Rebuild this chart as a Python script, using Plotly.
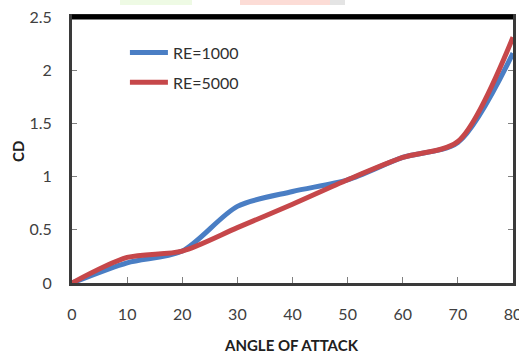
import plotly.graph_objects as go

angle = [0, 10, 20, 30, 40, 50, 60, 70, 80]
cd_re1000 = [0, 0.19, 0.30, 0.72, 0.86, 0.97, 1.18, 1.32, 2.16]
cd_re5000 = [0, 0.24, 0.30, 0.52, 0.74, 0.97, 1.18, 1.33, 2.31]
names = ["RE=1000", "RE=5000"]
colors = ["#4A7EC4", "#C6474A"]

fig = go.Figure()
for i, (ys, nm) in enumerate(zip([cd_re1000, cd_re5000], names)):
    fig.add_trace(go.Scatter(
        x=angle, y=ys, mode="lines", name=nm, legendgroup=nm,
        line=dict(color=colors[i], width=5, shape="spline", smoothing=0.8),
    ))

def py(pix):
    return (283 - pix) / 266

def px(pix):
    return (pix - 72) / 441

font_main = "Lato, 'Open Sans', sans-serif"
fig.update_layout(
    width=519, height=356,
    margin=dict(l=72, r=6, t=17, b=73),
    paper_bgcolor="white", plot_bgcolor="white",
    font=dict(family=font_main, size=16, color="#404040"),
    showlegend=True,
    legend=dict(x=0.12, y=0.93, xanchor="left", yanchor="top", itemwidth=38,
                bgcolor="rgba(0,0,0,0)", traceorder="grouped",
                tracegroupgap=6, font=dict(size=16, color="#303030")),
    xaxis=dict(range=[0, 80], tickvals=[0, 10, 20, 30, 40, 50, 60, 70, 80],
               showgrid=False, zeroline=False, showline=True, linecolor="#3a3a3a",
               linewidth=3, mirror=True, ticks="inside", ticklen=6, tickwidth=1,
               tickcolor="#808080", ticklabelstandoff=15, ticklabeloverflow="allow",
               automargin=False),
    yaxis=dict(range=[0, 2.5], tickvals=[0, 0.5, 1, 1.5, 2, 2.5],
               ticktext=["0", "0.5", "1", "1.5", "2", "2.5"],
               showgrid=False, zeroline=False, showline=True, linecolor="#3a3a3a",
               linewidth=3, mirror="ticks", ticks="inside", ticklen=5, tickwidth=1,
               tickcolor="#808080", ticklabelstandoff=14, automargin=False),
    annotations=[
        dict(text="<b>ANGLE OF ATTACK</b>", xref="paper", yref="paper",
             x=px(291), y=py(345), xanchor="center", yanchor="middle", showarrow=False,
             font=dict(size=15, color="#202020")),
        dict(text="<b>CD</b>", xref="paper", yref="paper", textangle=-90,
             x=px(18), y=py(152), xanchor="center", yanchor="middle", showarrow=False,
             font=dict(size=15, color="#202020")),
    ],
    shapes=[
        dict(type="line", xref="paper", yref="paper", x0=0, x1=1, y0=1, y1=1,
             line=dict(color="black", width=5)),
        dict(type="rect", xref="paper", yref="paper", x0=px(120), x1=px(192),
             y0=py(5), y1=py(0), fillcolor="#eefae4", line=dict(width=0)),
        dict(type="rect", xref="paper", yref="paper", x0=px(240), x1=px(330),
             y0=py(5), y1=py(0), fillcolor="#fcdcd6", line=dict(width=0)),
        dict(type="rect", xref="paper", yref="paper", x0=px(330), x1=px(345),
             y0=py(5), y1=py(0), fillcolor="#e4e4e4", line=dict(width=0)),
    ],
)
fig.write_html("out.html")
